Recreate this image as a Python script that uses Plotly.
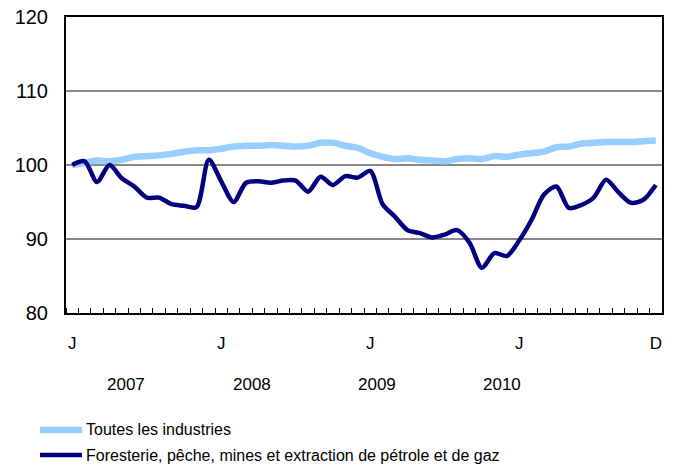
import plotly.graph_objects as go

months = list(range(48))
all_industries = [100.0, 100.3, 100.6, 100.5, 100.7, 101.1, 101.2, 101.3, 101.5, 101.8, 102.0, 102.0,
                  102.2, 102.5, 102.6, 102.6, 102.7, 102.6, 102.5, 102.6, 103.0, 103.0, 102.6, 102.3,
                  101.6, 101.1, 100.8, 100.9, 100.7, 100.6, 100.5, 100.8, 100.9, 100.8, 101.2, 101.1,
                  101.4, 101.6, 101.8, 102.4, 102.5, 102.9, 103.0, 103.1, 103.1, 103.1, 103.2, 103.3]
forestry = [100.0, 100.5, 97.7, 100.0, 98.2, 97.1, 95.6, 95.6, 94.7, 94.5, 94.3, 100.7,
            97.8, 95.0, 97.6, 97.8, 97.6, 97.9, 97.9, 96.4, 98.4, 97.3, 98.5, 98.3,
            99.2, 94.7, 93.0, 91.2, 90.8, 90.2, 90.6, 91.2, 89.5, 86.1, 88.1, 87.7,
            89.8, 92.6, 96.0, 97.1, 94.2, 94.6, 95.6, 98.0, 96.3, 94.9, 95.3, 97.3]
tick_positions = [0, 12, 24, 36, 47]
tick_labels = ["J", "J", "J", "J", "D"]
years = ["2007", "2008", "2009", "2010"]
year_x = [0.101, 0.312, 0.522, 0.732]
series_names = ["Toutes les industries",
                "Foresterie, pêche, mines et extraction de pétrole et de gaz"]
series_colors = ["#99CCFF", "#000080"]
series_widths = [6.5, 4.5]

FONT = "Liberation Sans, Arial, sans-serif"

fig = go.Figure()
for vals, name, col, w in zip([all_industries, forestry], series_names, series_colors, series_widths):
    fig.add_trace(go.Scatter(x=months, y=vals, mode="lines", name=name, showlegend=False,
                             line=dict(color=col, width=w, shape="spline", smoothing=0.8)))

for yr, xp in zip(years, year_x):
    fig.add_annotation(text=yr, x=xp, y=-0.243, xref="paper", yref="paper",
                       showarrow=False, font=dict(size=17, color="black", family=FONT),
                       xanchor="center", yanchor="middle")

# legend drawn below the plot
legend_y = [-0.395, -0.48]
for name, col, w, ly in zip(series_names, series_colors, series_widths, legend_y):
    fig.add_shape(type="line", xref="paper", yref="paper", x0=-0.0436, x1=0.0268, y0=ly, y1=ly,
                  line=dict(color=col, width=w))
    fig.add_annotation(text=name, x=0.031, y=ly, xref="paper", yref="paper", showarrow=False,
                       xanchor="left", yanchor="middle",
                       font=dict(size=16, color="black", family=FONT))

fig.update_layout(
    width=675, height=468,
    margin=dict(l=66, r=13, t=17, b=155),
    paper_bgcolor="white", plot_bgcolor="white",
    font=dict(family=FONT, size=17, color="black"),
    showlegend=False,
    xaxis=dict(range=[-0.5, 47.5], tickvals=tick_positions, ticktext=tick_labels,
               ticks="", showgrid=False, zeroline=False, automargin=False,
               showline=True, linecolor="black", linewidth=2, mirror=True,
               ticklabelstandoff=14, tickfont=dict(size=17),
               minor=dict(tick0=-0.5, dtick=1, ticks="inside", ticklen=5,
                          tickcolor="black", tickwidth=1, showgrid=False)),
    yaxis=dict(range=[80, 120], tickvals=[80, 90, 100, 110, 120],
               showgrid=True, gridcolor="#888888", gridwidth=2, zeroline=False, automargin=False,
               showline=True, linecolor="black", linewidth=2, mirror=True,
               ticks="", ticklabelstandoff=12, tickfont=dict(size=20)),
)

fig.write_html("out.html", config={"displayModeBar": False},
               post_script="document.body.style.margin='0';document.body.style.overflow='hidden';")
